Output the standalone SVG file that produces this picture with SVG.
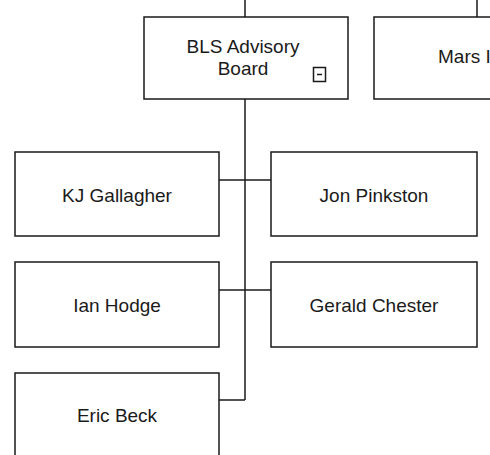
<svg xmlns="http://www.w3.org/2000/svg" width="490" height="455" viewBox="0 0 490 455">
  <style>
    .box { fill: #ffffff; stroke: #1a1a1a; stroke-width: 1.5; }
    .wire { fill: none; stroke: #1a1a1a; stroke-width: 1.5; }
    .label { font-family: "Liberation Sans", Arial, sans-serif; font-size: 19px; fill: #1a1a1a; text-anchor: middle; }
  </style>
  <rect width="490" height="455" fill="#ffffff"/>

  <!-- connectors -->
  <g id="connectors">
    <path class="wire" d="M245 0 V17"/>
    <path class="wire" d="M477 0 V17"/>
    <path class="wire" d="M245 99 V400"/>
    <path class="wire" d="M219 180 H271"/>
    <path class="wire" d="M219 290 H271"/>
    <path class="wire" d="M219 400 H245"/>
  </g>

  <g id="bls-advisory-board">
    <rect class="box" x="144" y="17" width="204" height="82"/>
    <text class="label" x="243" y="53">BLS Advisory</text>
    <text class="label" x="243" y="75">Board</text>
    <rect class="box" x="313.5" y="67.5" width="12" height="14"/>
    <path class="wire" d="M317 74.5 H322"/>
  </g>

  <g id="mars">
    <rect class="box" x="374" y="17" width="130" height="82"/>
    <text class="label" x="438" y="63" style="text-anchor:start">Mars I</text>
  </g>

  <g id="kj-gallagher">
    <rect class="box" x="15" y="152" width="204" height="84"/>
    <text class="label" x="117" y="202">KJ Gallagher</text>
  </g>

  <g id="jon-pinkston">
    <rect class="box" x="271" y="152" width="206" height="84"/>
    <text class="label" x="374" y="202">Jon Pinkston</text>
  </g>

  <g id="ian-hodge">
    <rect class="box" x="15" y="262" width="204" height="85"/>
    <text class="label" x="117" y="312">Ian Hodge</text>
  </g>

  <g id="gerald-chester">
    <rect class="box" x="271" y="262" width="206" height="85"/>
    <text class="label" x="374" y="312">Gerald Chester</text>
  </g>

  <g id="eric-beck">
    <rect class="box" x="15" y="373" width="204" height="90"/>
    <text class="label" x="117" y="422">Eric Beck</text>
  </g>
</svg>
